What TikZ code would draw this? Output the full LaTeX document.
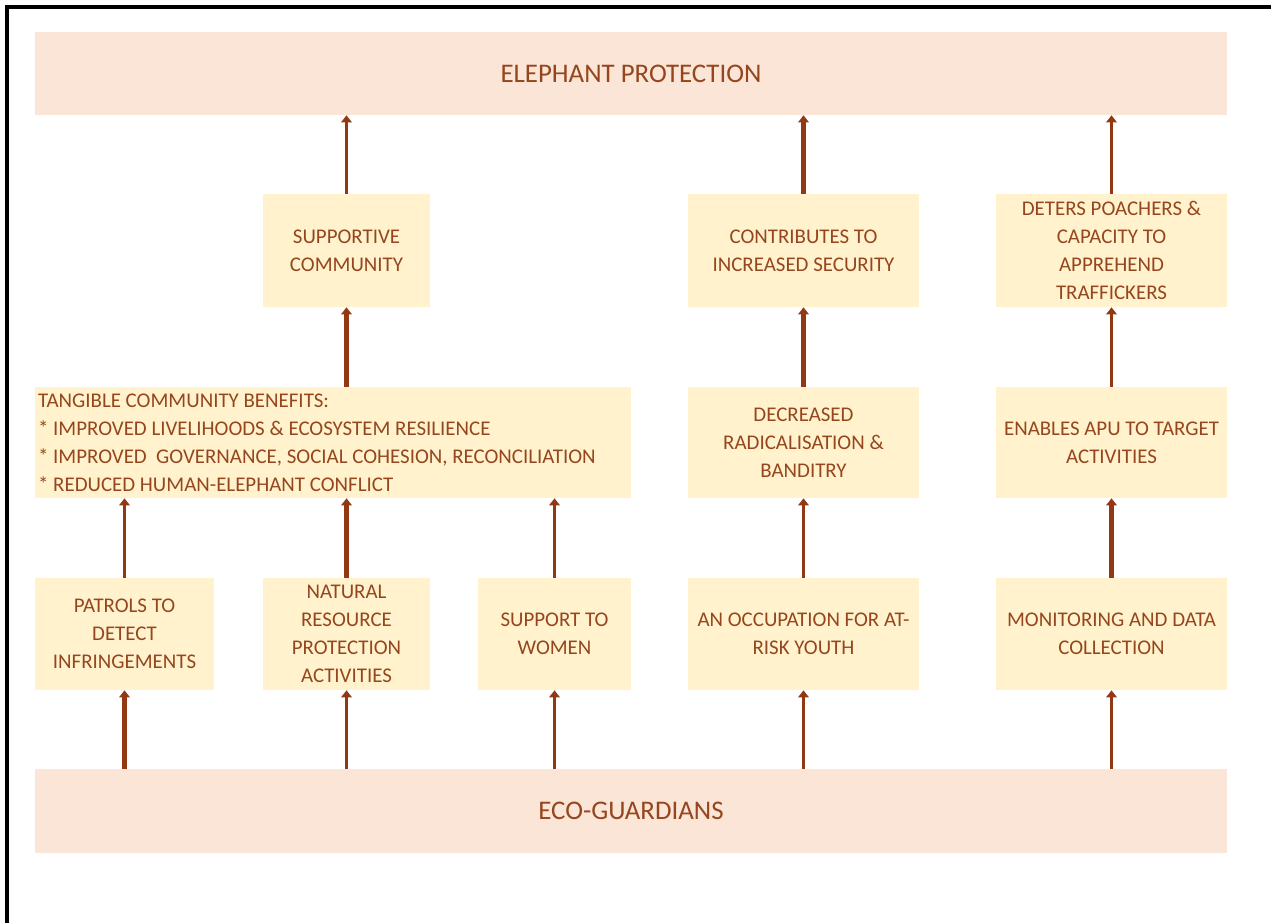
\documentclass[tikz,border=0pt]{standalone}
\usepackage{fontspec}
\setmainfont{Carlito}
\usetikzlibrary{arrows.meta}
\definecolor{PaleRose}{RGB}{251,229,214}
\definecolor{PaleGold}{RGB}{255,242,204}
\definecolor{Rust}{RGB}{150,70,30}
\definecolor{DarkRust}{RGB}{146,56,18}

\begin{document}
\begin{tikzpicture}[x=0.02cm, y=-0.02cm]
	\useasboundingbox (0,0) rectangle (1271,923);
	\draw[line width=2.2pt] (7,923) -- (7,7) -- (1271,7);
	\begin{scope}[every node/.style = {fill=PaleGold, text=Rust, inner sep=2pt, align=center,
			font=\fontsize{11.9}{15.9}\selectfont}]
		\node[fill=PaleRose, minimum width=23.84cm, minimum height=1.66cm,
			font=\fontsize{15.3}{18}\selectfont] (EP) at (631,73.5) {ELEPHANT PROTECTION};
		\node[fill=PaleRose, minimum width=23.84cm, minimum height=1.68cm,
			font=\fontsize{15.3}{18}\selectfont] (EG) at (631,811) {ECO-GUARDIANS};
		\node[minimum width=3.34cm, minimum height=2.26cm] (SC) at (346.5,250.5) {SUPPORTIVE\\COMMUNITY};
		\node[minimum width=4.62cm, minimum height=2.26cm] (IS) at (803.5,250.5) {CONTRIBUTES TO\\INCREASED SECURITY};
		\node[minimum width=4.62cm, minimum height=2.26cm] (DP) at (1111.5,250.5) {DETERS POACHERS \&\\CAPACITY TO\\APPREHEND\\TRAFFICKERS};
		\node[minimum height=2.22cm, text width=11.8cm, inner xsep=0.06cm, align=flush left] (TCB) at (333,442.5)
			{TANGIBLE COMMUNITY BENEFITS:\\
			{*} IMPROVED LIVELIHOODS \& ECOSYSTEM RESILIENCE\\
			{*} IMPROVED\ \ GOVERNANCE, SOCIAL COHESION, RECONCILIATION\\
			{*} REDUCED HUMAN-ELEPHANT CONFLICT};
		\node[minimum width=4.62cm, minimum height=2.22cm] (DR) at (803.5,442.5) {DECREASED\\RADICALISATION \&\\BANDITRY};
		\node[minimum width=4.62cm, minimum height=2.22cm] (EA) at (1111.5,442.5) {ENABLES APU TO TARGET\\ACTIVITIES};
		\node[minimum width=3.58cm, minimum height=2.24cm] (PT) at (124.5,634) {PATROLS TO\\DETECT\\INFRINGEMENTS};
		\node[minimum width=3.34cm, minimum height=2.24cm] (NR) at (346.5,634) {NATURAL\\RESOURCE\\PROTECTION\\ACTIVITIES};
		\node[minimum width=3.06cm, minimum height=2.24cm] (SW) at (554.5,634) {SUPPORT TO\\WOMEN};
		\node[minimum width=4.62cm, minimum height=2.24cm] (OY) at (803.5,634) {AN OCCUPATION FOR AT-\\RISK YOUTH};
		\node[minimum width=4.62cm, minimum height=2.24cm] (MD) at (1111.5,634) {MONITORING AND DATA\\COLLECTION};
	\end{scope}
	\begin{scope}[>={Triangle[width=6pt, length=4pt]},
			every edge/.style={draw=DarkRust, line width=1.5pt}]
		\path [->] (EG.north -| PT) edge [line width=2.3pt] (PT.south);
		\path [->] (EG.north -| NR) edge (NR.south);
		\path [->] (EG.north -| SW) edge (SW.south);
		\path [->] (EG.north -| OY) edge (OY.south);
		\path [->] (EG.north -| MD) edge [line width=1.2pt] (MD.south);
		\path [->] (PT.north) edge (PT.north |- TCB.south);
		\path [->] (NR.north) edge [line width=2.3pt] (NR.north |- TCB.south);
		\path [->] (SW.north) edge (SW.north |- TCB.south);
		\path [->] (OY.north) edge (DR.south);
		\path [->] (MD.north) edge [line width=2.3pt] (EA.south);
		\path [->] (TCB.north -| SC) edge [line width=2.3pt] (SC.south);
		\path [->] (DR.north) edge [line width=2.3pt] (IS.south);
		\path [->] (EA.north) edge (DP.south);
		\path [->] (SC.north) edge [line width=1.2pt] (EP.south -| SC);
		\path [->] (IS.north) edge [line width=2.3pt] (EP.south -| IS);
		\path [->] (DP.north) edge (EP.south -| DP);
	\end{scope}
\end{tikzpicture}
\end{document}
